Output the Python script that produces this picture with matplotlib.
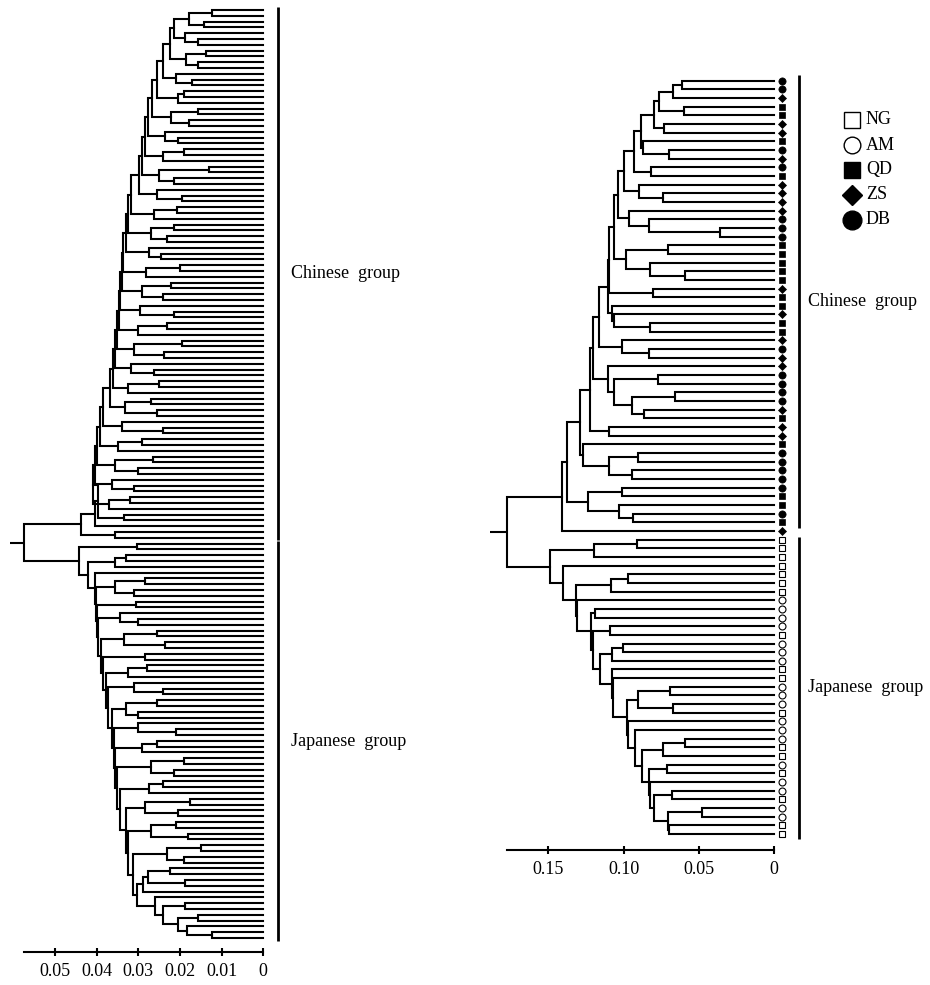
import re
import matplotlib.pyplot as plt
from matplotlib.collections import LineCollection
from matplotlib.lines import Line2D

plt.rcParams["font.family"] = ["Liberation Serif", "DejaVu Serif"]

# =============================================================================
# DATA  -- trees written as "(a,b)height", a leaf is "x"
# =============================================================================
# ---- right tree (88 individuals) ----
R_C1_7 = "((((x,x).0615,x).0675,(x,x).0600).0764,(x,x).0733).0797"
R_C1_12 = "((" + R_C1_7 + ",(x,(x,x).0700).0874).0888,(x,x).0821).0932"
R_C1_19 = "((" + R_C1_12 + ",(x,(x,x).0739).0899).0998,(x,(x,(x,x).0360).0830).0965).1036"
R_C1_24 = "(" + R_C1_19 + ",((x,x).0704,(x,(x,x).0593).0826).0987).1062"
R_C1_30 = "((" + R_C1_24 + ",(x,x).0808).1100,(x,(x,(x,x).0826).1065).1080).1107"
R_C1_40 = "((" + R_C1_30 + ",(x,(x,x).0830).1009).1164,(x,((x,x).0775,((x,x).0660,(x,x).0863).0947).1065).1107).1202"
R_C1_47 = "((" + R_C1_40 + ",(x,x).1098).1224,(x,((x,x).0903,(x,x).0947).1098).1268).1290"
R_CHINESE = "((" + R_C1_47 + ",((x,x).1014,(x,(x,x).0936).1031).1235).1375,x).1412"

R_J_TAIL = "((x,x).0714,(x,((x,x).0682,((x,x).0483,(x,x).0699).0704).0799).0826).0835"
R_J_MID = "(((x,x).0692,(x,x).0670).0903,(x,(x,(((x,x).0593,x).0737," + R_J_TAIL + ").0880).0925).0969).0980"
R_J_UP = "((x,x).1190,((x,x).1091,(((x,x).1002,x).1080,(x,(x," + R_J_MID + ").1068).1075).1157).1202).1219"
R_JAPANESE = "(((x,x).0914,x).1195,(x,(((x,x).0974,x).1087,(x," + R_J_UP + ").1308).1317).1400).1490"
RIGHT_TREE = "(" + R_CHINESE + "," + R_JAPANESE + ").1777"
RIGHT_STUB = 0.1888

RIGHT_GROUPS = [
    "DB", "DB", "ZS", "QD", "QD", "ZS", "ZS", "QD", "DB", "ZS",
    "DB", "QD", "ZS", "ZS", "ZS", "ZS", "DB", "DB", "DB", "QD",
    "QD", "QD", "QD", "QD", "ZS", "QD", "QD", "ZS", "QD", "QD",
    "ZS", "DB", "ZS", "ZS", "DB", "DB", "DB", "DB", "ZS", "QD",
    "ZS", "ZS", "QD", "DB", "DB", "DB", "DB", "DB", "QD", "QD",
    "DB", "QD", "ZS",
    "NG", "NG", "NG", "NG", "NG", "NG", "NG", "AM", "AM", "AM",
    "AM", "NG", "AM", "AM", "AM", "NG", "NG", "AM", "AM", "AM",
    "NG", "AM", "AM", "AM", "NG", "NG", "AM", "NG", "AM", "AM",
    "NG", "AM", "AM", "NG", "NG",
]
RIGHT_N_CHINESE = 53

# ---- left tree: Chinese clades top to bottom, joined one after another ----
L_CN_CLADES = [
    "((x,x).0124,(x,x).0142).0178", "(x,(x,x).0156).0188", "((x,x).0138,(x,x).0156).0185",
    "(x,(x,x).0172).0210", "((x,x).0190,x).0205", "((x,x).0156,(x,x).0178).0222",
    "(x,(x,x).0205).0235", "((x,x).0190,x).0240", "((x,x).0130,(x,x).0215).0250",
    "(x,(x,x).0195).0255", "((x,x).0208,x).0262", "((x,x).0215,(x,x).0230).0270",
    "(x,(x,x).0245).0275", "((x,x).0200,x).0282", "((x,x).0222,(x,x).0240).0290",
    "(x,(x,x).0215).0296", "((x,x).0230,x).0300", "((x,x).0195,(x,x).0238).0310",
    "(x,(x,x).0262).0318", "((x,x).0250,x).0325", "((x,x).0270,(x,x).0255).0332",
    "(x,(x,x).0240).0340", "((x,x).0290,x).0348", "((x,x).0265,(x,x).0300).0355",
    "(x,(x,x).0310).0362", "((x,x).0320,x).0370", "(x,x).0334", "x", "(x,x).0356",
]
L_CN_SPINE = [.0215, .0225, .0240, .0255, .0268, .0277, .0284, .0290, .0298, .0318,
              .0324, .0330, .0336, .0340, .0345, .0347, .0350, .0355, .0360, .0368,
              .0385, .0392, .0398, .0404, .0408, .0396, .0404, .0438]
# ---- left tree: Japanese clades top to bottom, joined from the bottom up ----
L_JP_BOTTOM = ("((((x,x).0224,(x,x).0188).0276,x).0288,"
               "(x,((x,x).0188,((x,x).0156,(x,(x,x).0124).0184).0204).0240).0260).0304")
L_JP_CLADES = [
    "(x,x).0304", "((x,x).0330,x).0355", "x", "((x,x).0285,(x,x).0310).0355",
    "(x,x).0305", "(x,(x,x).0300).0345", "((x,x).0255,(x,x).0235).0335", "(x,x).0285",
    "((x,x).0280,x).0325", "(x,(x,x).0240).0310", "((x,x).0255,(x,x).0300).0330",
    "(x,(x,x).0210).0300", "((x,x).0255,x).0290", "((x,x).0190,(x,x).0215).0270",
    "((x,x).0240,x).0275", "((x,x).0175,(x,x).0205).0285", "((x,x).0210,(x,x).0180).0270",
    "((x,x).0150,(x,x).0190).0230", L_JP_BOTTOM,
]
L_JP_SPINE = [.0312, .0324, .0330, .0344, .0350, .0356, .0358, .0362, .0372, .0378,
              .0384, .0390, .0397, .0400, .0402, .0404, .0420, .0442]
LEFT_ROOT = 0.0574
LEFT_STUB = 0.0608

LEFT_TICKS = [0.05, 0.04, 0.03, 0.02, 0.01, 0]
LEFT_TICKLABELS = ["0.05", "0.04", "0.03", "0.02", "0.01", "0"]
RIGHT_TICKS = [0.15, 0.10, 0.05, 0]
RIGHT_TICKLABELS = ["0.15", "0.10", "0.05", "0"]
GROUP_ORDER = ["NG", "AM", "QD", "ZS", "DB"]

# =============================================================================
# STYLE
# =============================================================================
FIG_W, FIG_H = 930, 985
FONTSIZE = 13
LW = 1.5
MARKERS = {
    "NG": dict(marker="s", mfc="white", mec="black", ms=5.0, mew=0.8),
    "AM": dict(marker="o", mfc="white", mec="black", ms=5.0, mew=0.8),
    "QD": dict(marker="s", mfc="black", mec="black", ms=5.0, mew=0.5),
    "ZS": dict(marker="D", mfc="black", mec="black", ms=3.6, mew=0.5),
    "DB": dict(marker="o", mfc="black", mec="black", ms=5.2, mew=0.5),
}
LEGEND_MS = {"NG": 11.5, "AM": 12, "QD": 11.5, "ZS": 10.5, "DB": 13.5}


# =============================================================================
# TREE HELPERS
# =============================================================================
def chain_down(clades, spine):
    s = clades[0]
    for c, h in zip(clades[1:], spine):
        s = f"({s},{c}){h}"
    return s


def chain_up(clades, spine):
    s = clades[-1]
    for c, h in zip(reversed(clades[:-1]), spine):
        s = f"({c},{s}){h}"
    return s


def parse_tree(text):
    tokens = re.findall(r"[(),x]|[0-9.]+", text)
    pos = 0

    def read():
        nonlocal pos
        tok = tokens[pos]
        pos += 1
        if tok == "x":
            return None
        a = read()
        pos += 1  # ','
        b = read()
        pos += 1  # ')'
        h = float(tokens[pos])
        pos += 1
        return (a, b, h)

    return read()


def dendro_paths(tree):
    """U-shaped paths (height, leaf position) for every internal node."""
    paths, count = [], [0]

    def walk(node):
        if node is None:
            count[0] += 1
            return count[0] - 1, 0.0
        ya, ha = walk(node[0])
        yb, hb = walk(node[1])
        h = node[2]
        paths.append([(ha, ya), (h, ya), (h, yb), (hb, yb)])
        return (ya + yb) / 2, h

    y, h = walk(tree)
    return paths, y, h, count[0]


def draw_tree(ax, text, stub):
    paths, y, h, n = dendro_paths(parse_tree(text))
    ax.add_collection(LineCollection(paths, colors="black", linewidths=LW,
                                     joinstyle="miter", capstyle="projecting"))
    ax.plot([h, stub], [y, y], color="black", lw=LW, solid_capstyle="butt")
    return n


def style_axis(ax, ticks, labels, axis_max):
    for side in ("top", "left", "right"):
        ax.spines[side].set_visible(False)
    ax.spines["bottom"].set_bounds(0, axis_max)
    ax.spines["bottom"].set_linewidth(LW)
    ax.set_yticks([])
    ax.set_xticks(ticks)
    ax.set_xticklabels(labels)
    ax.tick_params(axis="x", direction="inout", length=6, width=LW,
                   labelsize=FONTSIZE, pad=5)
    ax.patch.set_visible(False)


def px_axes(fig, x0, y0, x1, y1):
    return fig.add_axes([x0 / FIG_W, 1 - y1 / FIG_H, (x1 - x0) / FIG_W, (y1 - y0) / FIG_H])


def group_bar(ax, x, y0, y1, text, tx):
    ax.plot([x, x], [y0, y1], color="black", lw=2.0, solid_capstyle="butt")
    ax.text(tx, (y0 + y1) / 2, text, ha="left", va="center", fontsize=FONTSIZE)


# =============================================================================
# MAIN
# =============================================================================
def main():
    fig = plt.figure(figsize=(FIG_W / 100, FIG_H / 100), dpi=100)

    # ---------------- left dendrogram ----------------
    cn = chain_down(L_CN_CLADES, L_CN_SPINE)
    jp = chain_up(L_JP_CLADES, L_JP_SPINE)
    left_tree = "(" + cn + "," + jp + f"){LEFT_ROOT}"
    n_cn_left = cn.count("x")

    axl = px_axes(fig, 0, 0, 280, 952)
    n_left = draw_tree(axl, left_tree, LEFT_STUB)
    px0, ppu = 263.3, 4167.0          # pixel of height 0, pixels per unit
    axl.set_xlim(px0 / ppu, (px0 - 280) / ppu)
    step = (938.0 - 10.0) / (n_left - 1)
    axl.set_ylim((952 - 10) / step, -10 / step)
    style_axis(axl, LEFT_TICKS, LEFT_TICKLABELS, LEFT_ROOT)
    bx, tx = (px0 - 278) / ppu, (px0 - 291) / ppu
    group_bar(axl, bx, -0.55, n_cn_left - 1 + 0.4, "Chinese  group", tx)
    group_bar(axl, bx, n_cn_left - 0.4, n_left - 1 + 0.6, "Japanese  group", tx)

    # ---------------- right dendrogram ----------------
    axr = px_axes(fig, 480, 40, 930, 850)
    n_right = draw_tree(axr, RIGHT_TREE, RIGHT_STUB)
    px0, ppu = 774.3, 1506.0
    axr.set_xlim((px0 - 480) / ppu, (px0 - 930) / ppu)
    step = (834.0 - 80.7) / (n_right - 1)
    axr.set_ylim((850 - 80.7) / step, (40 - 80.7) / step)
    style_axis(axr, RIGHT_TICKS, RIGHT_TICKLABELS, 0.1777)

    mx = (px0 - 782) / ppu
    for i, g in enumerate(RIGHT_GROUPS):
        axr.plot([mx], [i], linestyle="none", **MARKERS[g])

    bx, tx = (px0 - 799) / ppu, (px0 - 808) / ppu
    group_bar(axr, bx, -0.65, RIGHT_N_CHINESE - 1 - 0.35, "Chinese  group", tx)
    group_bar(axr, bx, RIGHT_N_CHINESE - 0.35, n_right - 1 + 0.6, "Japanese  group", tx)

    # ---------------- legend ----------------
    for k, g in enumerate(GROUP_ORDER):
        ypx = [120, 145, 169.5, 194.5, 220][k]
        st = dict(MARKERS[g])
        st["ms"] = LEGEND_MS[g]
        st["mew"] = 1.0
        fig.add_artist(Line2D([851.7 / FIG_W], [1 - ypx / FIG_H], transform=fig.transFigure,
                              linestyle="none", **st))
        fig.text(866 / FIG_W, 1 - ypx / FIG_H, g, ha="left", va="center", fontsize=FONTSIZE)

    fig.savefig("out.png", dpi=100)
    plt.close(fig)


if __name__ == "__main__":
    main()
